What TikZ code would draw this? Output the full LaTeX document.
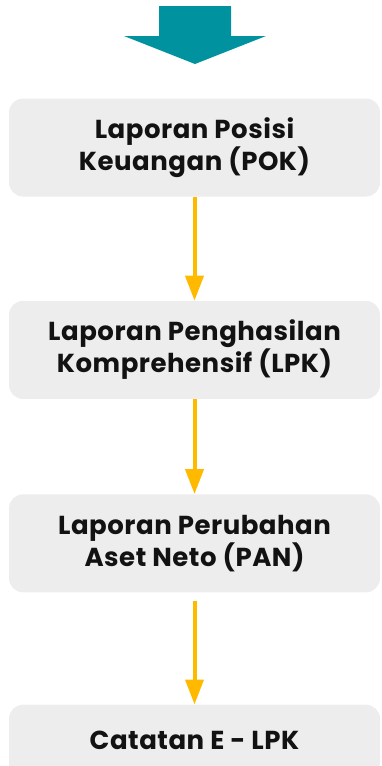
\documentclass[tikz,border=0pt]{standalone}
\usepackage{fontspec}
\setmainfont{Poppins}[LetterSpace=2]
\usetikzlibrary{positioning, arrows.meta}
\definecolor{tealarrow}{HTML}{00929E}
\definecolor{flowyellow}{HTML}{FFBA00}
\definecolor{boxgray}{HTML}{EDEDED}

\begin{document}
\begin{tikzpicture}[x=1pt, y=1pt,
    box/.style={fill=boxgray, rounded corners=14pt, minimum width=371pt, minimum height=98pt,
      inner sep=0pt, align=center, font=\fontsize{26}{32}\selectfont\bfseries, text=black!93},
    flow/.style={-{Triangle[width=18pt, length=25pt]}, line width=4pt, draw=flowyellow},
    node distance=104pt]
  \useasboundingbox (0,0) rectangle (381,-766);
  \clip (0,0) rectangle (381,-766);
  % big arrow on top
  \coordinate (tip) at (195,-64);
  \fill[tealarrow] (tip) -- ++(-71,28) -- ++(35,0) -- ++(0,30) -- ++(72,0)
    -- ++(0,-30) -- ++(35,0) -- cycle;

  \node[box] (POK) at (194.5,-147.5) {Laporan Posisi\\Keuangan (POK)};
  \node[box, below=of POK] (LPK) {Laporan Penghasilan\\Komprehensif (LPK)};
  \node[box, below=95pt of LPK] (PAN) {Laporan Perubahan\\Aset Neto (PAN)};
  \node[box, below=112pt of PAN, minimum height=72pt] (CLK) {Catatan E - LPK};

  \draw[flow] (POK) -- (LPK);
  \draw[flow] (LPK) -- (PAN);
  \draw[flow, shorten <=8pt] (PAN) -- (CLK);
\end{tikzpicture}
\end{document}
